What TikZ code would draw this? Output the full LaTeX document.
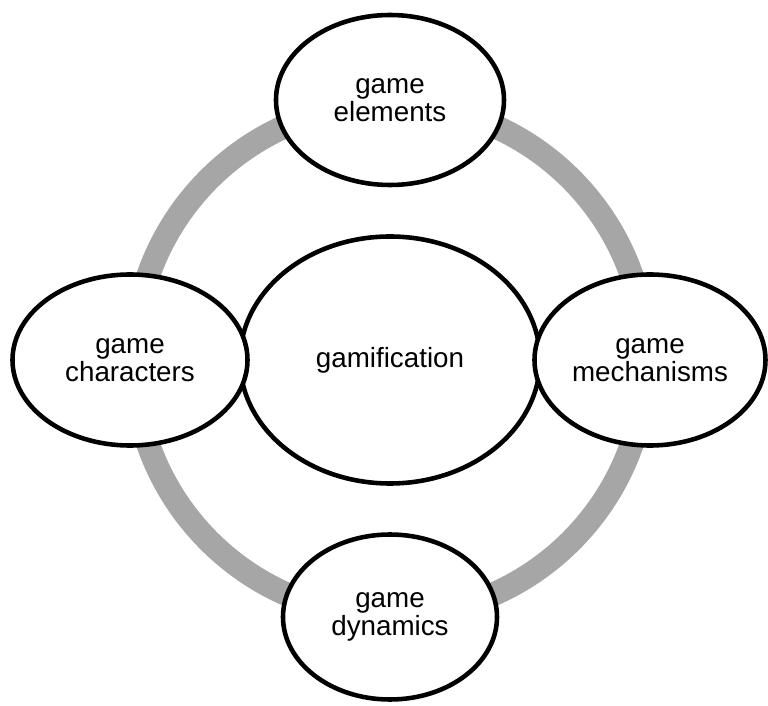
\documentclass[tikz,border=0pt]{standalone}
\usepackage{fontspec}
\setmainfont{Liberation Sans}
\usetikzlibrary{
positioning,
shapes
}
\definecolor{ringgray}{RGB}{166,166,166}
\tikzset{
gamenode/.style={draw,ellipse,fill=white,line width=2.6pt,align=center,inner sep=0pt},
every node/.style={font=\fontsize{15.8}{16.1}\selectfont}
}

\begin{document}
\begin{tikzpicture}[scale=1, node distance=5.2cm]
		\useasboundingbox (-7.8,-6.92) rectangle (7.56,7.2);
		\coordinate (mid) at (0,0);
		\draw[ringgray,line width=13.5pt] (mid) circle (5.12cm);
		
		\node[gamenode,minimum width=6.0cm,minimum height=4.94cm] (gamif) at (mid) {gamification};
		\node[gamenode,above of=gamif,minimum width=4.56cm,minimum height=3.4cm] (elem) {game\\elements};
		\node[gamenode,left of=gamif,minimum width=4.7cm,minimum height=3.42cm] (chars) {game\\characters};
		\node[gamenode,right of=gamif,minimum width=4.62cm,minimum height=3.42cm] (mech) {game\\mechanisms};
		\node[gamenode,below of=gamif,node distance=5.14cm,minimum width=4.28cm,minimum height=3.3cm] (dyn) {game\\dynamics};
	\end{tikzpicture}
\end{document}
